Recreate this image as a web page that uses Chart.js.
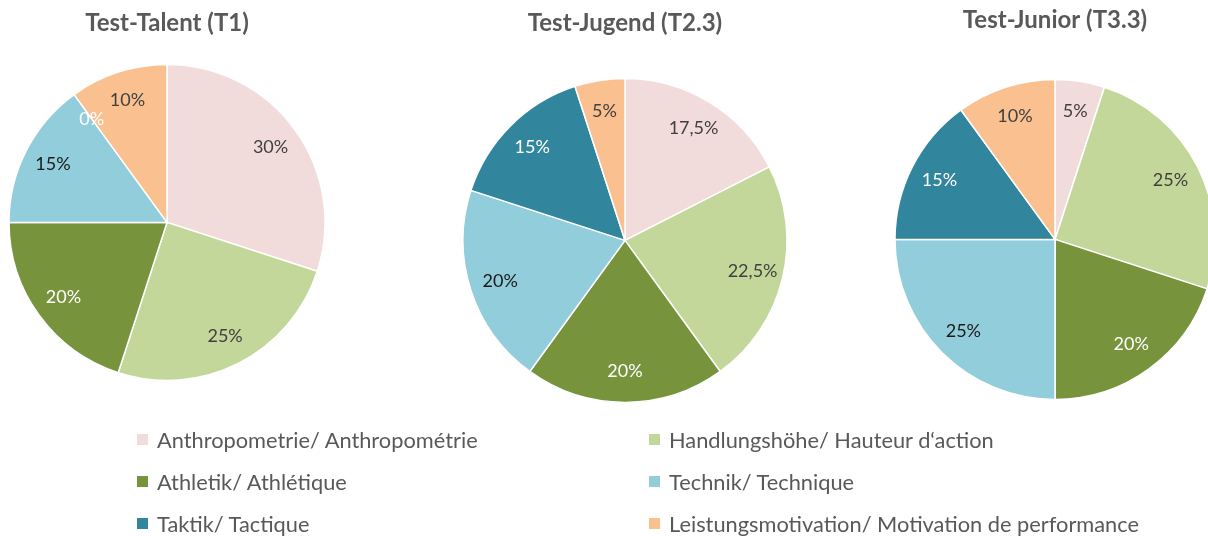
<!DOCTYPE html>
<html>
<head>
<meta charset="utf-8">
<script src="https://cdn.jsdelivr.net/npm/chart.js@4"></script>
<style>
  html, body { margin: 0; padding: 0; background: #fff; overflow: hidden; }
  body { width: 1208px; height: 536px; position: relative; font-family: Lato, "Open Sans", sans-serif; }
  .pie { position: absolute; }
  #legend { position: absolute; left: 137px; top: 418px; display: grid; grid-template-columns: 512px 520px; row-gap: 0; }
  .item { height: 42px; display: flex; align-items: center; font-size: 21.8px; color: #595959; }
  .box { width: 11px; height: 11px; margin-right: 9px; flex: none; }
</style>
</head>
<body>
<div class="pie" id="w1"><canvas id="c1"></canvas></div>
<div class="pie" id="w2"><canvas id="c2"></canvas></div>
<div class="pie" id="w3"><canvas id="c3"></canvas></div>
<div id="legend"></div>
<script>
/* DATOS */
const categories = ['Anthropometrie/ Anthropométrie', 'Handlungshöhe/ Hauteur d‘action', 'Athletik/ Athlétique', 'Technik/ Technique', 'Taktik/ Tactique', 'Leistungsmotivation/ Motivation de performance']
const colors = ['#F2DCDB', '#C4D79B', '#77933C', '#92CDDC', '#31859C', '#FAC090']
const labelColors = ['#404040', '#404040', '#ffffff', '#1a1a1a', '#ffffff', '#404040']
const talentValues = [30, 25, 20, 15, 0, 10]
const jugendValues = [17.5, 22.5, 20, 20, 15, 5]
const juniorValues = [5, 25, 20, 25, 15, 10]
const titles = ['Test-Talent (T1)', 'Test-Jugend (T2.3)', 'Test-Junior (T3.3)']

const titleSize = 24

/* ETIQUETAS DE PORCENTAJE DENTRO DE CADA SECTOR */
const sliceLabels = {
  id: 'sliceLabels',
  afterDatasetsDraw(chart) {
    const ctx = chart.ctx
    const meta = chart.getDatasetMeta(0)
    const data = chart.data.datasets[0].data
    ctx.save()
    ctx.font = '18px Lato, "Open Sans", sans-serif'
    ctx.textAlign = 'center'
    ctx.textBaseline = 'middle'
    meta.data.forEach((arc, i) => {
      const { x, y, startAngle, endAngle, outerRadius } = arc.getProps(['x', 'y', 'startAngle', 'endAngle', 'outerRadius'], true)
      const mid = (startAngle + endAngle) / 2
      const d = outerRadius * 0.81
      ctx.fillStyle = labelColors[i]
      ctx.fillText(String(data[i]).replace('.', ',') + '%', x + Math.cos(mid) * d, y + Math.sin(mid) * d)
    })
    ctx.restore()
  }
}

/* CREA UN GRAFICO DE TORTA EN SU POSICION */
const makePie = (id, wrap, values, title, cx, cy, r, titleY) => {
  const w = 380
  const line = titleSize * 1.2
  const top = titleY - 10 - line / 2
  const areaTop = 10 + line + 10
  const h = 2 * (cy - top - areaTop) + areaTop
  const el = document.querySelector(wrap)
  el.style.left = (cx - w / 2) + 'px'
  el.style.top = top + 'px'
  el.style.width = w + 'px'
  el.style.height = h + 'px'
  new Chart(document.querySelector(id), {
    type: 'pie',
    data: { labels: categories, datasets: [{ data: values, backgroundColor: colors, borderColor: '#ffffff', borderWidth: 1.5 }] },
    options: {
      responsive: true,
      maintainAspectRatio: false,
      animation: false,
      radius: r,
      layout: { padding: 0 },
      plugins: {
        legend: { display: false },
        tooltip: { enabled: false },
        title: {
          display: true, text: title, color: '#595959',
          font: { family: 'Lato, "Open Sans", sans-serif', size: titleSize, weight: 'bold', lineHeight: 1.2 },
          padding: { top: 10, bottom: 10 }
        }
      }
    },
    plugins: [sliceLabels]
  })
}

makePie('#c1', '#w1', talentValues, titles[0], 167, 222, 158, 23)
makePie('#c2', '#w2', jugendValues, titles[1], 625, 240, 162, 23)
makePie('#c3', '#w3', juniorValues, titles[2], 1055, 239, 160, 20)

/* LEYENDA COMPARTIDA */
let html = ''
categories.forEach((e, i) => {
  html += `<div class="item"><span class="box" style="background:${colors[i]}"></span>${e}</div>`
})
document.querySelector('#legend').innerHTML = html
</script>
</body>
</html>
